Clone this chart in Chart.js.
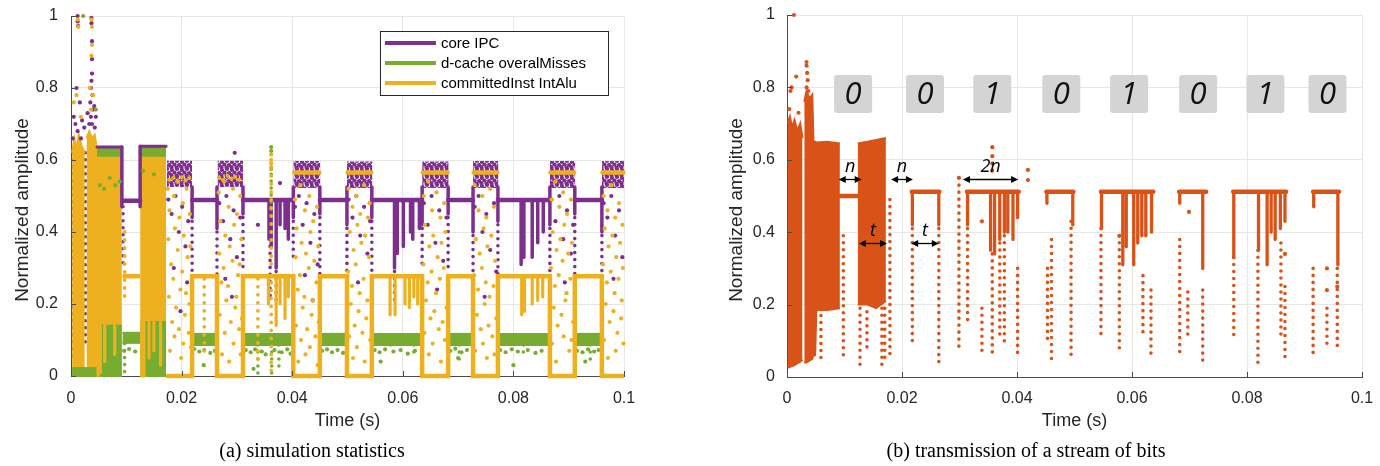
<!DOCTYPE html>
<html><head><meta charset="utf-8">
<script src="https://cdn.jsdelivr.net/npm/chart.js@4.4.1/dist/chart.umd.min.js"></script>
<style>
html,body{margin:0;padding:0;background:#fff;}
#wrap{position:relative;width:1380px;height:466px;overflow:hidden;}
#ca{position:absolute;left:0;top:0;}
#cb{position:absolute;left:690px;top:0;}
</style></head><body>
<div id="wrap"><canvas id="ca" width="690" height="466"></canvas><canvas id="cb" width="690" height="466"></canvas></div>
<script>
// ---------------- shared axis data ----------------
const xTickValues = [0, 0.02, 0.04, 0.06, 0.08, 0.1];
const xTickLabels = ['0', '0.02', '0.04', '0.06', '0.08', '0.1'];
const yTickValues = [0, 0.2, 0.4, 0.6, 0.8, 1];
const yTickLabels = ['0', '0.2', '0.4', '0.6', '0.8', '1'];
const xTitle = 'Time (s)';
const yTitle = 'Normalized amplitude';
const captionA = '(a) simulation statistics';
const captionB = '(b) transmission of a stream of bits';

// ---------------- (a) simulation statistics ----------------
const seriesNamesA = ['core IPC', 'd-cache overalMisses', 'committedInst IntAlu'];

// core IPC
const ipcLevels = [[0.0093,0.0125,0.487],[0.0219,0.0264,0.489],[0.0311,0.0402,0.489],[0.0450,0.0499,0.489],[0.0544,0.0635,0.489],[0.0682,0.0727,0.489],[0.0772,0.0866,0.489],[0.0911,0.0960,0.489]];
const ipcBlockTops = [[0.0047,0.0092,0.636],[0.0125,0.0172,0.638]];
const ipcClusters = [[0.0173,0.0219,0.525,0.598],[0.0265,0.0311,0.525,0.598],[0.0402,0.0451,0.522,0.597],[0.0499,0.0545,0.522,0.596],[0.0635,0.0683,0.522,0.596],[0.0727,0.0773,0.522,0.597],[0.0866,0.0912,0.522,0.597],[0.0960,0.1000,0.522,0.597]];
const ipcDrops = [[0.0092,0.636,0.47],[0.0125,0.638,0.47],[0.0219,0.525,0.44],[0.0264,0.525,0.41],[0.0311,0.525,0.45],[0.0358,0.489,0.38],[0.0362,0.489,0.36],[0.0371,0.489,0.30],[0.0378,0.489,0.42],[0.0387,0.489,0.41],[0.0393,0.489,0.38],[0.0402,0.525,0.44],[0.0450,0.525,0.45],[0.0499,0.525,0.42],[0.0544,0.525,0.44],[0.0585,0.489,0.30],[0.0590,0.489,0.34],[0.0601,0.489,0.36],[0.0614,0.489,0.40],[0.0618,0.489,0.38],[0.0630,0.489,0.41],[0.0635,0.525,0.42],[0.0682,0.525,0.45],[0.0727,0.525,0.40],[0.0772,0.525,0.43],[0.0814,0.489,0.31],[0.0819,0.489,0.33],[0.0834,0.489,0.33],[0.0844,0.489,0.37],[0.0854,0.489,0.40],[0.0866,0.525,0.42],[0.0911,0.525,0.45],[0.0960,0.525,0.40]];
const ipcTrails = [[0.0003,0.62,0.04],[0.0026,0.62,0.08],[0.0047,0.60,0.12],[0.0094,0.47,0.30],[0.0219,0.43,0.25],[0.0264,0.40,0.20],[0.0311,0.44,0.30],[0.0360,0.36,0.22],[0.0371,0.29,0.20],[0.0402,0.43,0.32],[0.0450,0.44,0.26],[0.0499,0.41,0.20],[0.0544,0.43,0.28],[0.0585,0.29,0.20],[0.0635,0.41,0.30],[0.0682,0.44,0.30],[0.0727,0.39,0.25],[0.0772,0.42,0.28],[0.0866,0.41,0.29],[0.0911,0.44,0.22],[0.0960,0.39,0.28]];
const ipcDots = [[0.0012,1.0],[0.0012,0.985],[0.0013,0.972],[0.0037,0.995],[0.0037,0.98],[0.0038,0.93],[0.0038,0.88],[0.0038,0.84],[0.0037,0.82],[0.0036,0.80],[0.0039,0.78],[0.0035,0.76],[0.0040,0.74],[0.0036,0.72],[0.0038,0.70],[0.0010,0.80],[0.0016,0.76],[0.0005,0.72],[0.0008,0.70],[0.0012,0.68],[0.0020,0.71],[0.0003,0.66],[0.0018,0.66],[0.0024,0.69],[0.0030,0.73],[0.0033,0.70],[0.0042,0.75],[0.0045,0.72],[0.0043,0.69],
 [0.0176,0.49],[0.0182,0.45],[0.0189,0.50],[0.0195,0.40],[0.0201,0.47],[0.0207,0.36],[0.0212,0.43],[0.0186,0.30],[0.0210,0.26],[0.0198,0.18],
 [0.0268,0.48],[0.0275,0.43],[0.0281,0.50],[0.0288,0.38],[0.0294,0.46],[0.0300,0.33],[0.0306,0.44],[0.0279,0.27],[0.0296,0.62],[0.0291,0.22],
 [0.0405,0.47],[0.0412,0.50],[0.0419,0.42],[0.0426,0.48],[0.0433,0.37],[0.0440,0.45],[0.0446,0.31],[0.0423,0.28],[0.0437,0.21],[0.0338,0.42],[0.0378,0.536],
 [0.0502,0.49],[0.0509,0.44],[0.0516,0.50],[0.0523,0.39],[0.0530,0.47],[0.0536,0.34],[0.0541,0.43],[0.0519,0.26],
 [0.0638,0.48],[0.0645,0.42],[0.0652,0.50],[0.0659,0.37],[0.0666,0.46],[0.0673,0.32],[0.0679,0.44],[0.0662,0.24],
 [0.0730,0.47],[0.0737,0.50],[0.0744,0.40],[0.0751,0.45],[0.0758,0.35],[0.0765,0.48],[0.0769,0.29],[0.0748,0.22],
 [0.0869,0.49],[0.0876,0.43],[0.0883,0.50],[0.0890,0.38],[0.0897,0.46],[0.0904,0.34],[0.0908,0.42],[0.0893,0.26],
 [0.0963,0.48],[0.0970,0.44],[0.0977,0.50],[0.0984,0.39],[0.0991,0.46],[0.0997,0.33],[0.0981,0.27]];

// committedInst IntAlu
const aluClouds = [
 [[0.0002,0.015,0.62],[0.0006,0.015,0.66],[0.0010,0.015,0.63],[0.0014,0.015,0.67],[0.0019,0.015,0.64],[0.0025,0.015,0.62]],
 [[0.0028,0.02,0.66],[0.0033,0.02,0.68],[0.0038,0.02,0.66],[0.0043,0.02,0.67],[0.0047,0.02,0.625],[0.0048,0.14,0.623],[0.0092,0.14,0.623]],
 [[0.0125,0.15,0.625],[0.0172,0.15,0.625]]
];
const aluWave = [[0.0093,0.277],[0.0125,0.277],[0.0125,null],[0.0172,0],[0.0219,0],[0.0219,0.277],[0.0264,0.277],[0.0264,0],[0.0311,0],[0.0311,0.277],[0.0402,0.277],[0.0402,0],[0.0450,0],[0.0450,0.277],[0.0499,0.277],[0.0499,0],[0.0544,0],[0.0544,0.277],[0.0635,0.277],[0.0635,0],[0.0682,0],[0.0682,0.277],[0.0727,0.277],[0.0727,0],[0.0772,0],[0.0772,0.277],[0.0866,0.277],[0.0866,0],[0.0911,0],[0.0911,0.277],[0.0960,0.277],[0.0960,0],[0.1000,0]];
const aluOffLevels = [[0.0404,0.0449,0.565],[0.0500,0.0543,0.565],[0.0636,0.0681,0.565],[0.0728,0.0771,0.565],[0.0867,0.0910,0.565],[0.0961,0.0999,0.565]];
const aluDrops = [[0.0049,0.14,0.0],[0.0053,0.14,0.01],[0.0061,0.14,0.04],[0.0079,0.14,0.06],[0.0128,0.15,0.0],[0.0132,0.15,0.0],[0.0141,0.15,0.05],[0.0150,0.15,0.07],[0.0162,0.15,0.03],
 [0.0357,0.277,0.20],[0.0371,0.277,0.14],[0.0378,0.277,0.20],[0.0387,0.277,0.16],[0.0393,0.277,0.22],
 [0.0577,0.277,0.17],[0.0586,0.277,0.17],[0.0604,0.277,0.20],[0.0612,0.277,0.19],[0.0620,0.277,0.22],[0.0627,0.277,0.20],
 [0.0815,0.277,0.17],[0.0820,0.277,0.18],[0.0834,0.277,0.20],[0.0844,0.277,0.21],[0.0853,0.277,0.22]];
const aluTrails = [[0.0097,0.40,0.22],[0.0362,0.60,0.30],[0.0362,0.26,0.0],[0.0241,0.27,0.05],[0.0338,0.27,0.04]];
const aluDots = [[0.0012,0.99],[0.0013,0.97],[0.0037,0.99],[0.0038,0.97],[0.0038,0.92],[0.0037,0.89],[0.0010,0.78],[0.0005,0.76],[0.0018,0.72],[0.0034,0.80],[0.0040,0.78],[0.0036,0.74],[0.0362,0.615],[0.0362,0.59],
 [0.0178,0.545],[0.0185,0.55],[0.0192,0.54],[0.0200,0.552],[0.0207,0.543],[0.0214,0.55],[0.0268,0.55],[0.0275,0.545],[0.0283,0.556],[0.0290,0.548],[0.0297,0.553],[0.0304,0.545],
 [0.0175,0.52],[0.0178,0.46],[0.0176,0.38],[0.0181,0.31],[0.0177,0.22],[0.0183,0.15],[0.0179,0.07],[0.0186,0.50],[0.0188,0.41],[0.0185,0.27],[0.0190,0.19],[0.0187,0.11],[0.0194,0.54],[0.0196,0.44],[0.0193,0.35],[0.0198,0.24],[0.0195,0.13],[0.0199,0.05],[0.0202,0.48],[0.0204,0.39],[0.0201,0.29],[0.0206,0.17],[0.0203,0.09],[0.0209,0.52],[0.0211,0.33],[0.0208,0.23],[0.0213,0.12],[0.0215,0.45],[0.0216,0.36],[0.0214,0.20],[0.0217,0.08],
 [0.0267,0.51],[0.0270,0.43],[0.0268,0.34],[0.0272,0.26],[0.0269,0.17],[0.0273,0.06],[0.0277,0.54],[0.0279,0.39],[0.0276,0.30],[0.0281,0.21],[0.0278,0.12],[0.0285,0.47],[0.0287,0.36],[0.0284,0.25],[0.0289,0.15],[0.0286,0.04],[0.0293,0.52],[0.0295,0.42],[0.0292,0.32],[0.0297,0.19],[0.0294,0.09],[0.0300,0.45],[0.0302,0.28],[0.0299,0.22],[0.0304,0.13],[0.0306,0.50],[0.0308,0.38],[0.0305,0.31],[0.0309,0.16],[0.0307,0.06],
 [0.0405,0.49],[0.0408,0.41],[0.0406,0.33],[0.0410,0.24],[0.0407,0.14],[0.0411,0.04],[0.0415,0.53],[0.0417,0.37],[0.0414,0.28],[0.0419,0.19],[0.0416,0.10],[0.0423,0.46],[0.0425,0.34],[0.0422,0.22],[0.0427,0.13],[0.0424,0.06],[0.0431,0.50],[0.0433,0.40],[0.0430,0.30],[0.0435,0.17],[0.0432,0.08],[0.0438,0.43],[0.0440,0.32],[0.0437,0.21],[0.0442,0.11],[0.0445,0.47],[0.0447,0.36],[0.0444,0.26],[0.0448,0.15],[0.0446,0.03],
 [0.0502,0.52],[0.0504,0.40],[0.0501,0.29],[0.0506,0.20],[0.0503,0.11],[0.0509,0.47],[0.0511,0.35],[0.0508,0.25],[0.0513,0.14],[0.0510,0.05],[0.0516,0.50],[0.0518,0.42],[0.0515,0.31],[0.0520,0.18],[0.0517,0.08],[0.0523,0.45],[0.0525,0.37],[0.0522,0.23],[0.0527,0.12],[0.0530,0.53],[0.0532,0.39],[0.0529,0.27],[0.0534,0.16],[0.0531,0.04],[0.0537,0.44],[0.0539,0.33],[0.0536,0.21],[0.0541,0.10],[0.0540,0.48],
 [0.0638,0.50],[0.0640,0.42],[0.0637,0.31],[0.0642,0.21],[0.0639,0.12],[0.0646,0.54],[0.0648,0.36],[0.0645,0.26],[0.0650,0.16],[0.0647,0.06],[0.0653,0.46],[0.0655,0.39],[0.0652,0.29],[0.0657,0.18],[0.0654,0.09],[0.0661,0.51],[0.0663,0.33],[0.0660,0.23],[0.0665,0.13],[0.0668,0.44],[0.0670,0.37],[0.0667,0.27],[0.0672,0.15],[0.0669,0.04],[0.0675,0.48],[0.0677,0.40],[0.0674,0.30],[0.0679,0.19],[0.0676,0.10],
 [0.0730,0.53],[0.0732,0.38],[0.0729,0.28],[0.0734,0.17],[0.0731,0.07],[0.0737,0.46],[0.0739,0.34],[0.0736,0.24],[0.0741,0.13],[0.0744,0.50],[0.0746,0.41],[0.0743,0.30],[0.0748,0.20],[0.0745,0.09],[0.0751,0.44],[0.0753,0.36],[0.0750,0.26],[0.0755,0.14],[0.0752,0.05],[0.0758,0.52],[0.0760,0.39],[0.0757,0.22],[0.0762,0.11],[0.0765,0.47],[0.0767,0.32],[0.0764,0.25],[0.0769,0.16],[0.0766,0.06],
 [0.0869,0.49],[0.0871,0.40],[0.0868,0.30],[0.0873,0.19],[0.0870,0.09],[0.0876,0.54],[0.0878,0.35],[0.0875,0.25],[0.0880,0.14],[0.0877,0.04],[0.0883,0.47],[0.0885,0.38],[0.0882,0.28],[0.0887,0.17],[0.0890,0.51],[0.0892,0.42],[0.0889,0.32],[0.0894,0.21],[0.0891,0.11],[0.0897,0.45],[0.0899,0.34],[0.0896,0.23],[0.0901,0.07],[0.0904,0.49],[0.0906,0.37],[0.0903,0.27],[0.0908,0.15],[0.0905,0.10],
 [0.0963,0.50],[0.0965,0.41],[0.0962,0.31],[0.0967,0.20],[0.0964,0.10],[0.0970,0.46],[0.0972,0.36],[0.0969,0.26],[0.0974,0.15],[0.0971,0.05],[0.0977,0.53],[0.0979,0.39],[0.0976,0.29],[0.0981,0.18],[0.0984,0.44],[0.0986,0.33],[0.0983,0.23],[0.0988,0.12],[0.0985,0.07],[0.0991,0.48],[0.0993,0.37],[0.0990,0.27],[0.0995,0.16],[0.0997,0.42],[0.0998,0.30],[0.0996,0.21],[0.0999,0.09]];

// d-cache overalMisses
const missBands = [[0.0047,0.0092,0.612,0.635],[0.0125,0.0172,0.612,0.638],[0.0002,0.0047,0.0,0.022],[0.0047,0.0092,0.0,0.14],[0.0125,0.0172,0.0,0.15],[0.0093,0.0125,0.092,0.12],[0.0219,0.0264,0.086,0.117],[0.0311,0.0402,0.086,0.117],[0.0450,0.0499,0.086,0.117],[0.0544,0.0635,0.086,0.117],[0.0682,0.0727,0.086,0.117],[0.0772,0.0866,0.086,0.117],[0.0911,0.0960,0.086,0.117]];
const missTrails = [[0.0097,0.09,0.01],[0.0219,0.086,0.0],[0.0264,0.086,0.0],[0.0311,0.086,0.0],[0.0338,0.086,0.0],[0.0363,0.086,0.0],[0.0376,0.086,0.02],[0.0402,0.086,0.0],[0.0450,0.086,0.0],[0.0499,0.086,0.0],[0.0544,0.086,0.0],[0.0578,0.086,0.07],[0.0620,0.086,0.05],[0.0635,0.086,0.0],[0.0682,0.086,0.0],[0.0702,0.086,0.03],[0.0727,0.086,0.0],[0.0772,0.086,0.0],[0.0818,0.086,0.05],[0.0866,0.086,0.0],[0.0911,0.086,0.0],[0.0939,0.086,0.03],[0.0960,0.086,0.0],[0.0362,0.60,0.45]];
const missDots = [[0.0022,1.0],[0.0045,0.74],[0.0362,0.636],[0.0362,0.625],[0.0362,0.575],
 [0.0052,0.53],[0.0060,0.52],[0.0070,0.55],[0.0080,0.53],[0.0088,0.54],[0.0130,0.57],[0.0150,0.56],
 [0.0096,0.07],[0.0105,0.075],[0.0116,0.068],[0.0223,0.075],[0.0232,0.068],[0.0241,0.072],[0.0252,0.064],[0.0260,0.07],[0.0316,0.072],[0.0325,0.066],[0.0333,0.074],[0.0345,0.068],[0.0352,0.06],[0.0368,0.072],[0.0381,0.066],[0.0391,0.074],[0.0397,0.062],[0.0454,0.07],[0.0463,0.074],[0.0472,0.066],[0.0482,0.072],[0.0492,0.064],[0.0549,0.072],[0.0558,0.066],[0.0568,0.074],[0.0583,0.068],[0.0596,0.072],[0.0609,0.062],[0.0622,0.07],[0.0686,0.07],[0.0695,0.076],[0.0706,0.066],[0.0716,0.072],[0.0776,0.072],[0.0786,0.066],[0.0797,0.074],[0.0808,0.068],[0.0826,0.072],[0.0840,0.064],[0.0851,0.07],[0.0915,0.07],[0.0925,0.066],[0.0935,0.074],[0.0946,0.068],[0.0954,0.072],
 [0.0240,0.03],[0.0330,0.02],[0.0560,0.04],[0.0700,0.05],[0.0800,0.03],[0.0930,0.04]];

// ---------------- (b) transmission of a stream of bits ----------------
const bitValues = ['0', '0', '1', '0', '1', '0', '1', '0'];
const bitCenters = [0.0115, 0.0240, 0.0357, 0.0477, 0.0595, 0.0715, 0.0832, 0.0940];
const bitLevel = 0.782;
const arrowMarks = [[0.0090,0.0130,0.547,'n'],[0.0181,0.0219,0.547,'n'],[0.0306,0.0402,0.547,'2n'],[0.0125,0.0174,0.370,'t'],[0.0216,0.0264,0.370,'t']];
const bursts = [
 [[0.0001,0.025,0.70],[0.0005,0.028,0.72],[0.0009,0.03,0.69],[0.0013,0.033,0.71],[0.0018,0.038,0.68],[0.0023,0.042,0.70],[0.0027,0.048,0.66]],
 [[0.0030,0.04,0.76],[0.0034,0.04,0.79],[0.0039,0.045,0.77],[0.0044,0.05,0.78],[0.0046,0.06,0.65],[0.0049,0.06,0.65],[0.0051,0.185,0.648],[0.0070,0.185,0.65],[0.0092,0.19,0.645]],
 [[0.0123,0.20,0.645],[0.0140,0.20,0.65],[0.0155,0.19,0.655],[0.0172,0.21,0.66]]
];
const levelsB = [[0.0092,0.0123,0.500],[0.0217,0.0265,0.512],[0.0313,0.0403,0.512],[0.0451,0.0498,0.512],[0.0546,0.0637,0.512],[0.0682,0.0729,0.512],[0.0776,0.0868,0.512],[0.0915,0.0960,0.512]];
const dropsB = [[0.0218,0.42],[0.0264,0.42],[0.0314,0.42],[0.0354,0.35],[0.0361,0.34],[0.0370,0.38],[0.0378,0.40],[0.0384,0.40],[0.0393,0.38],[0.0401,0.44],[0.0452,0.48],[0.0497,0.42],[0.0547,0.41],[0.0584,0.31],[0.0590,0.36],[0.0603,0.31],[0.0610,0.37],[0.0617,0.39],[0.0624,0.39],[0.0634,0.40],[0.0683,0.48],[0.0723,0.30],[0.0777,0.33],[0.0820,0.35],[0.0835,0.31],[0.0842,0.40],[0.0849,0.38],[0.0858,0.41],[0.0866,0.43],[0.0916,0.47],[0.0958,0.31]];
const trailsB = [[0.0059,0.17,0.035],[0.0098,0.39,0.05],[0.0127,0.19,0.03],[0.0139,0.18,0.07],[0.0165,0.19,0.02],[0.0170,0.19,0.04],[0.0179,0.49,0.05],[0.0218,0.41,0.09],[0.0264,0.41,0.03],[0.0299,0.53,0.07],[0.0314,0.41,0.15],[0.0339,0.19,0.07],[0.0357,0.34,0.06],[0.0370,0.37,0.10],[0.0378,0.39,0.09],[0.0401,0.30,0.06],[0.0453,0.30,0.10],[0.0460,0.38,0.04],[0.0494,0.43,0.06],[0.0546,0.41,0.11],[0.0578,0.39,0.075],[0.0619,0.28,0.12],[0.0633,0.24,0.05],[0.0683,0.38,0.06],[0.0697,0.235,0.10],[0.0723,0.24,0.03],[0.0777,0.33,0.11],[0.0819,0.35,0.04],[0.0859,0.37,0.11],[0.0866,0.25,0.05],[0.0915,0.30,0.066],[0.0939,0.19,0.08],[0.0957,0.30,0.075]];
const dotsB = [[0.0012,1.0],[0.0008,0.80],[0.0006,0.79],[0.0016,0.83],[0.0034,0.87],[0.0034,0.86],[0.0035,0.84],[0.0036,0.82],[0.0034,0.80],[0.0037,0.79],[0.0004,0.74],[0.0020,0.73],[0.0357,0.635],[0.0357,0.61],[0.0357,0.59],[0.0357,0.57],[0.0419,0.572],[0.0419,0.544],[0.0339,0.43],[0.0299,0.55],[0.0699,0.456],[0.0939,0.30],[0.0939,0.24],[0.0957,0.25],[0.0866,0.34],[0.0578,0.39],[0.0046,0.40],[0.0046,0.38]];

// ---------------- styling & helpers ----------------
const SANS = '"Liberation Sans", Arial, Helvetica, sans-serif';
const SERIF = '"Liberation Serif", "Times New Roman", serif';
const TXT = '#262626';
const GRID = '#e6e6e6';
const AXIS = '#4a4a4a';
const PURPLE = '#7E2F8E', GREEN = '#77AC30', ORANGE = '#EDB120', RED = '#D95319';

const P = (list) => list.map(([x, y]) => ({x, y}));
function levelPts(list) { const o = []; list.forEach(([a, b, y]) => o.push({x:a, y}, {x:b, y}, {x:b, y:null})); return o; }
function segPts(list) { const o = []; list.forEach(([t, a, b]) => o.push({x:t, y:a}, {x:t, y:b}, {x:t, y:null})); return o; }
function dropPts(list, levels) {
  const o = [];
  list.forEach(([t, b]) => { const lv = levels.find(l => t >= l[0] - 0.0003 && t <= l[1] + 0.0003); o.push({x:t, y:lv ? lv[2] : 0.51}, {x:t, y:b}, {x:t, y:null}); });
  return o;
}
function lineDS(data, color, width, order, extra) {
  return Object.assign({data, borderColor: color, backgroundColor: color, borderWidth: width, pointRadius: 0, fill: false, showLine: true, spanGaps: false, order, clip: 6, borderCapStyle: 'round', borderJoinStyle: 'round'}, extra || {});
}
function dotDS(list, color, order, r) {
  return {data: P(list), showLine: false, pointRadius: r || 2.1, pointBorderWidth: 0, pointBackgroundColor: color, backgroundColor: color, borderColor: color, order, clip: 6};
}
function bandDS(profile, fillColor, edgeColor, order) {
  const bottom = {data: profile.map(p => ({x:p[0], y:p[1]})), borderColor: edgeColor, borderWidth: 2, pointRadius: 0, fill: false, showLine: true, order, clip: 6};
  const top = {data: profile.map(p => ({x:p[0], y:p[2]})), borderColor: edgeColor, borderWidth: 2, pointRadius: 0, fill: '-1', backgroundColor: fillColor, showLine: true, order, clip: 6};
  return [bottom, top];
}
const rect2profile = ([a, b, lo, hi]) => [[a, lo, hi], [b, lo, hi]];
function dotPattern(color) {
  const W = 10, H = 8;
  const c = document.createElement('canvas'); c.width = W; c.height = H;
  const g = c.getContext('2d'); g.fillStyle = color;
  [[2,2],[7,1],[4.5,4.5],[9,5],[1.5,7],[6.5,7.5]].forEach(([x, y]) => {
    for (const dx of [-W, 0, W]) for (const dy of [-H, 0, H]) { g.beginPath(); g.arc(x + dx, y + dy, 2.1, 0, Math.PI * 2); g.fill(); }
  });
  return g.createPattern(c, 'repeat');
}
const innerTicks = {
  id: 'innerTicks',
  afterDatasetsDraw(chart) {
    const {ctx, chartArea: a, scales: {x, y}} = chart;
    ctx.save(); ctx.strokeStyle = AXIS; ctx.lineWidth = 1; ctx.beginPath();
    xTickValues.forEach(v => { const px = Math.round(x.getPixelForValue(v)) + 0.5; ctx.moveTo(px, a.bottom); ctx.lineTo(px, a.bottom - 5); });
    yTickValues.forEach(v => { const py = Math.round(y.getPixelForValue(v)) + 0.5; ctx.moveTo(a.left, py); ctx.lineTo(a.left + 5, py); });
    ctx.stroke(); ctx.restore();
  }
};
// the y-axis title sits a little below the axis centre in the reference
const yTitleShift = {
  id: 'yTitleShift',
  beforeDraw(chart) {
    const s = chart.scales.y;
    if (s && !s.__shifted) {
      const orig = s.drawTitle.bind(s);
      s.drawTitle = function () { const ctx = this.ctx; ctx.save(); ctx.translate(0, 14); orig(); ctx.restore(); };
      s.__shifted = true;
    }
  }
};

function baseOptions(c) {
  return {
    responsive: false, animation: false, devicePixelRatio: 1, events: [],
    layout: {padding: {left: 0, right: c.padRight, top: c.padTop, bottom: 2}},
    plugins: {
      legend: {display: false}, tooltip: {enabled: false},
      title: {display: true, position: 'bottom', text: c.caption, color: '#000', font: {family: SERIF, size: 20, weight: 'normal'}, padding: {top: 8, bottom: 0}}
    },
    scales: {
      x: {type: 'linear', min: 0, max: 0.1,
        afterBuildTicks: s => { s.ticks = xTickValues.map(v => ({value: v})); },
        ticks: {callback: (v, i) => xTickLabels[i], font: {family: SANS, size: 16}, color: TXT, padding: c.xPad, maxRotation: 0, autoSkip: false},
        grid: {color: GRID, drawTicks: false}, border: {color: AXIS, width: 1},
        title: {display: true, text: xTitle, color: TXT, font: {family: SANS, size: 18}, padding: {top: 0, bottom: 0}},
        afterFit: s => { s.height = c.xH; s.paddingLeft = 0; s.paddingRight = 0; }},
      y: {type: 'linear', min: 0, max: 1,
        afterBuildTicks: s => { s.ticks = yTickValues.map(v => ({value: v})); },
        ticks: {callback: (v, i) => yTickLabels[i], font: {family: SANS, size: 16}, color: TXT, padding: c.yPad, autoSkip: false},
        grid: {color: GRID, drawTicks: false}, border: {color: AXIS, width: 1},
        title: {display: true, text: yTitle, color: TXT, font: {family: SANS, size: 19}, padding: {top: c.yTitlePad, bottom: 0}},
        afterFit: s => { s.width = c.yW; s.paddingTop = 0; s.paddingBottom = 0; }}
    }
  };
}

// ---------------- chart (a) ----------------
const dsA = [];
const clusterFill = dotPattern(PURPLE);
ipcClusters.forEach(r => dsA.push(...bandDS(rect2profile(r), clusterFill, 'rgba(0,0,0,0)', 60)));
dsA.push(lineDS(segPts(ipcTrails), PURPLE, 3.6, 55, {borderDash: [0, 7]}));
aluClouds.forEach(pr => dsA.push(...bandDS(pr, ORANGE, ORANGE, 50)));
missBands.forEach(r => dsA.push(...bandDS(rect2profile(r), GREEN, GREEN, 40)));
dsA.push(lineDS(segPts(ipcDrops), PURPLE, 3.5, 35));
dsA.push(lineDS(levelPts(ipcBlockTops), PURPLE, 3, 34));
dsA.push(lineDS(levelPts(ipcLevels), PURPLE, 4.5, 33, {label: seriesNamesA[0]}));
dsA.push(dotDS(ipcDots, PURPLE, 32));
dsA.push(lineDS(segPts(missTrails), GREEN, 3.6, 30, {borderDash: [0, 7]}));
dsA.push(dotDS(missDots, GREEN, 29));
dsA.push(lineDS(segPts(aluDrops), ORANGE, 3.2, 22));
dsA.push(lineDS(segPts(aluTrails), ORANGE, 3.8, 21, {borderDash: [0, 8]}));
dsA.push(lineDS(levelPts(aluOffLevels), ORANGE, 4.5, 20));
dsA.push(lineDS(P(aluWave), ORANGE, 4.5, 19, {borderJoinStyle: 'miter', borderCapStyle: 'butt'}));
dsA.push(dotDS(aluDots, ORANGE, 18));

const legendA = {
  id: 'legendA',
  afterDraw(chart) {
    const {ctx, chartArea} = chart;
    const colors = [PURPLE, GREEN, ORANGE];
    ctx.save();
    ctx.font = '15px ' + SANS;
    const tw = Math.max(...seriesNamesA.map(s => ctx.measureText(s).width));
    const w = 61 + tw + 22, h = 64;
    const x = chartArea.right - 16 - w, y = chartArea.top + 15;
    ctx.fillStyle = '#fff'; ctx.fillRect(x, y, w, h);
    ctx.strokeStyle = '#262626'; ctx.lineWidth = 1; ctx.strokeRect(x + 0.5, y + 0.5, w, h);
    seriesNamesA.forEach((s, i) => {
      const yy = y + 12 + i * 20;
      ctx.strokeStyle = colors[i]; ctx.lineWidth = 4; ctx.beginPath(); ctx.moveTo(x + 5, yy); ctx.lineTo(x + 56, yy); ctx.stroke();
      ctx.fillStyle = '#000'; ctx.textBaseline = 'middle'; ctx.textAlign = 'left'; ctx.fillText(s, x + 61, yy + 1);
    });
    ctx.restore();
  }
};

new Chart(document.getElementById('ca'), {
  type: 'line', data: {datasets: dsA},
  options: baseOptions({padRight: 66, padTop: 16, xH: 56, xPad: 13, yPad: 13, yW: 71, yTitlePad: 11, caption: captionA}),
  plugins: [innerTicks, yTitleShift, legendA]
});

// ---------------- chart (b) ----------------
const dsB = [];
bursts.forEach(pr => dsB.push(...bandDS(pr, RED, RED, 50)));
dsB.push(lineDS(levelPts(levelsB), RED, 4.5, 40));
dsB.push(lineDS(dropPts(dropsB, levelsB), RED, 3.3, 39));
dsB.push(lineDS(segPts(trailsB), RED, 3.6, 38, {borderDash: [0, 7]}));
dsB.push(dotDS(dotsB, RED, 37));

function arrowHead(ctx, x, y, dir) {
  ctx.beginPath(); ctx.moveTo(x, y); ctx.lineTo(x - dir * 7, y - 3.5); ctx.lineTo(x - dir * 7, y + 3.5); ctx.closePath(); ctx.fill();
}
const marksB = {
  id: 'marksB',
  afterDatasetsDraw(chart) {
    const {ctx, scales: {x, y}} = chart;
    ctx.save();
    bitValues.forEach((b, i) => {
      const cx = x.getPixelForValue(bitCenters[i]), cy = y.getPixelForValue(bitLevel);
      ctx.fillStyle = '#d4d4d4';
      ctx.beginPath(); ctx.roundRect(cx - 19, cy - 19, 38, 38, 3); ctx.fill();
      ctx.fillStyle = '#111'; ctx.font = 'italic 31px "Open Sans", "Noto Sans", sans-serif';
      ctx.textAlign = 'center'; ctx.textBaseline = 'middle'; ctx.fillText(b, cx, cy + 1);
    });
    arrowMarks.forEach(([a, bb, yy, lab]) => {
      const x0 = x.getPixelForValue(a), x1 = x.getPixelForValue(bb), py = Math.round(y.getPixelForValue(yy)) + 0.5;
      ctx.strokeStyle = '#000'; ctx.fillStyle = '#000'; ctx.lineWidth = 1.3;
      ctx.beginPath(); ctx.moveTo(x0 + 3, py); ctx.lineTo(x1 - 3, py); ctx.stroke();
      arrowHead(ctx, x1, py, 1); arrowHead(ctx, x0, py, -1);
      ctx.font = 'italic 18px "Open Sans", "Noto Sans", sans-serif';
      ctx.textAlign = 'center'; ctx.textBaseline = 'middle'; ctx.fillText(lab, (x0 + x1) / 2, py - 13);
    });
    ctx.restore();
  }
};

new Chart(document.getElementById('cb'), {
  type: 'line', data: {datasets: dsB},
  options: baseOptions({padRight: 18, padTop: 15, xH: 55, xPad: 12, yPad: 12, yW: 97, yTitlePad: 35, caption: captionB}),
  plugins: [innerTicks, yTitleShift, marksB]
});
</script>
</body></html>
